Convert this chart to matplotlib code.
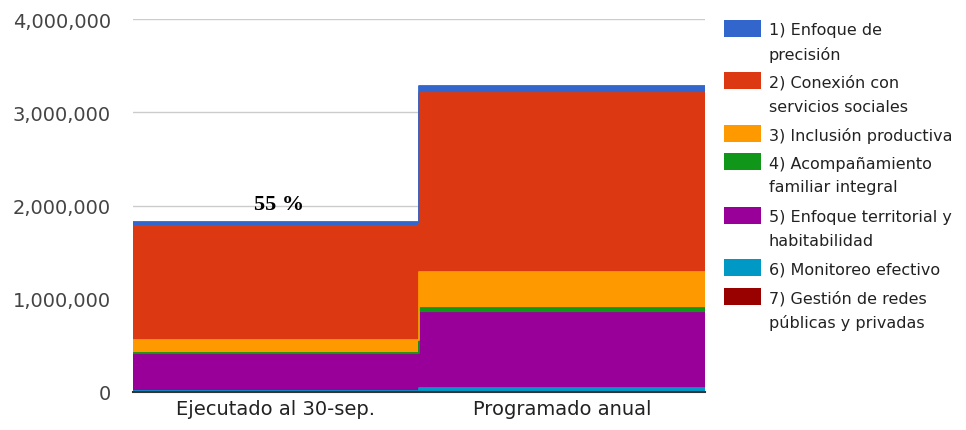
import numpy as np
import matplotlib
matplotlib.use("Agg")
import matplotlib.pyplot as plt
import matplotlib.patches as mpatches
from matplotlib.ticker import FuncFormatter

categories = ["Ejecutado al 30-sep.", "Programado anual"]

# series, listed bottom-of-stack first
series_names = [
    "7) Gestión de redes\npúblicas y privadas",
    "6) Monitoreo efectivo",
    "5) Enfoque territorial y\nhabitabilidad",
    "4) Acompañamiento\nfamiliar integral",
    "3) Inclusión productiva",
    "2) Conexión con\nservicios sociales",
    "1) Enfoque de\nprecisión",
]
g7 = [2000, 5000]
g6 = [5000, 40000]
g5 = [390000, 807000]
g4 = [21000, 50000]
g3 = [139000, 386000]
g2 = [1222000, 1920000]
g1 = [42000, 70000]
series_values = [g7, g6, g5, g4, g3, g2, g1]
colors = ["#990000", "#0099c6", "#990099", "#109618", "#ff9900", "#dc3912", "#3366cc"]

pct_label = "55 %"
yticks = [0, 1000000, 2000000, 3000000, 4000000]

fig = plt.figure(figsize=(9.66, 4.31), dpi=100)
ax = fig.add_axes([133 / 966, 38 / 431, 572 / 966, 373 / 431])

edges = np.arange(len(categories) + 1) - 0.5
base = np.zeros(len(categories))
for vals, col in zip(series_values, colors):
    top = base + np.array(vals, dtype=float)
    lo = np.append(base, base[-1])
    hi = np.append(top, top[-1])
    ax.fill_between(edges, lo, hi, step="post", color=col, lw=0, zorder=2)
    ax.step(edges, hi, where="post", color=col, lw=1.3, zorder=3)
    base = top

ax.set_xlim(-0.5, 1.5)
ax.set_ylim(0, 4000000)
ax.set_yticks(yticks)
ax.yaxis.set_major_formatter(FuncFormatter(lambda v, p: f"{int(v):,}"))
ax.set_xticks(range(len(categories)))
ax.set_xticklabels(categories)
ax.grid(axis="y", color="#cccccc", lw=1, zorder=0)
ax.set_axisbelow(True)
for s in ["top", "right", "left"]:
    ax.spines[s].set_visible(False)
ax.spines["bottom"].set_color("#333333")
ax.spines["bottom"].set_linewidth(1.5)
ax.spines["bottom"].set_zorder(5)
ax.tick_params(axis="y", length=0, pad=16, labelsize=14, labelcolor="#444444")
ax.tick_params(axis="x", length=0, pad=5, labelsize=14, labelcolor="#222222")

ax.text(0.01, 2020000, pct_label, ha="center", va="center", fontsize=16,
        fontweight="bold", family="Liberation Serif", color="black", zorder=6)

# legend, top entry first
W, H = 966, 431
box_tops = [21, 73, 126, 154, 208, 260, 289]
for i, (name, col) in enumerate(zip(series_names[::-1], colors[::-1])):
    y0 = box_tops[i]
    fig.add_artist(mpatches.Rectangle((724 / W, 1 - (y0 + 17) / H), 37 / W, 17 / H,
                                      transform=fig.transFigure, facecolor=col,
                                      edgecolor="none"))
    for j, line in enumerate(name.split("\n")):
        fig.text(769 / W, 1 - (y0 + 10 + 24 * j) / H, line, fontsize=11.5,
                 color="#222222", va="center", ha="left")

fig.savefig("out.png", dpi=100)
